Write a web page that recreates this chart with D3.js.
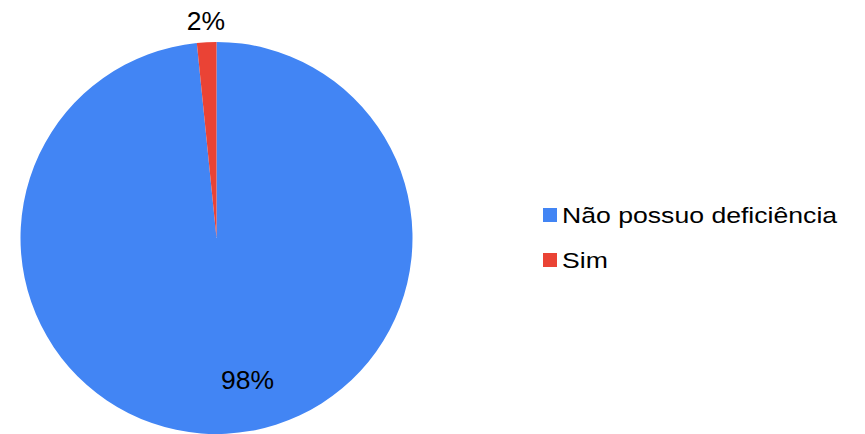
<!DOCTYPE html>
<html>
<head>
<meta charset="utf-8">
<script src="https://cdn.jsdelivr.net/npm/d3@7"></script>
<style>
	body { margin: 0; background: #fff; }
	text { font-family: "Liberation Sans", Arial, sans-serif; fill: #000; }
</style>
</head>
<body>
<script>
var categories = ['Não possuo deficiência', 'Sim'];
var values = [98.4, 1.6];
var colors = ['#4285f4', '#ea4335'];

var width = 865,
	height = 434;

var svg = d3.select('body').append('svg')
	.attr('width', width)
	.attr('height', height);

var cx = 216.5, cy = 238, r = 196;

var pie = d3.pie().sort(null).value(function (d) { return d; });
var arc = d3.arc().innerRadius(0).outerRadius(r);
var arcs = pie(values);

var g = svg.append('g').attr('transform', 'translate(' + cx + ',' + cy + ')');

g.selectAll('path.slice')
	.data(arcs)
	.enter().append('path')
	.attr('class', 'slice')
	.attr('d', arc)
	.attr('fill', function (d, i) { return colors[i]; });

// labels: big slice inside, small slice outside above
var outer = d3.arc().innerRadius(r + 14).outerRadius(r + 14);

function labelPos(d, i) {
	if (i === 0) return [31, 151];
	var c = outer.centroid(d);
	return [c[0], c[1] + 2];
}

g.selectAll('text.lbl')
	.data(arcs)
	.enter().append('text')
	.attr('class', 'lbl')
	.attr('text-anchor', 'middle')
	.attr('font-size', 25)
	.attr('transform', function (d, i) {
		var p = labelPos(d, i);
		return 'translate(' + p[0] + ',' + p[1] + ') scale(1.06,1)';
	})
	.text(function (d) { return Math.round(d.data) + '%'; });

// legend
var legend = svg.selectAll('g.leg')
	.data(categories)
	.enter().append('g')
	.attr('class', 'leg')
	.attr('transform', function (d, i) { return 'translate(543,' + (208 + i * 45) + ')'; });

legend.append('rect')
	.attr('width', 14)
	.attr('height', 14)
	.attr('fill', function (d, i) { return colors[i]; });

legend.append('text')
	.attr('transform', 'translate(19,15) scale(1.21,1)')
	.attr('font-size', 22)
	.text(function (d) { return d; });
</script>
</body>
</html>
